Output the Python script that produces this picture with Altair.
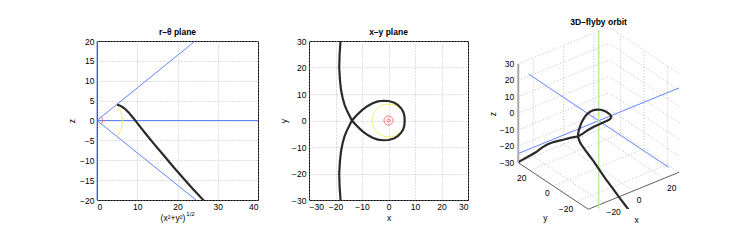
import altair as alt
import pandas as pd

FONT = "Liberation Sans"

# ---------------- r–θ plane (panel 1) ----------------
rz_r = [5.0, 5.6, 6.3, 7.0, 7.8, 8.7, 9.6, 10.6, 12.0, 14.0, 16.5, 19.0, 21.5, 24.0, 26.5, 29.0]
rz_z = [4.0, 3.8, 3.4, 2.9, 2.1, 1.0, -0.1, -1.4, -3.2, -5.7, -8.7, -11.7, -14.6, -17.4, -20.1, -22.8]
cone_r = [24.4, 0.0, 24.6]
cone_z = [20.0, 0.0, -20.0]
zero_line_r = [0.0, 40.0]
zero_line_z = [0.0, 0.0]
pole_line_r = [0.0, 0.0]
pole_line_z = [-20.0, 20.0]
cone_half_angle = 0.686          # rad
rz_yellow_radius = 6.3
rz_red_radius = 1.4

# ---------------- orbit (panels 2 and 3) ----------------
orbit_x = [-16.6, -17.0, -17.4, -17.7, -18.1, -18.45, -18.6, -18.3, -17.9, -17.3, -16.6, -15.8, -14.8, -13.8,
           -12.0, -10.0, -8.0, -6.0, -4.0, -2.0, 0.0, 2.0, 3.5, 4.8, 5.6, 6.0, 6.1,
           6.0, 5.6, 4.8, 3.5, 2.0, 0.0, -2.0, -4.0, -6.0, -8.0, -10.0, -12.0, -13.8,
           -14.8, -15.8, -16.6, -17.3, -17.9, -18.3, -18.6, -18.45, -18.1, -17.7, -17.4, -17.0, -16.6]
orbit_y = [50, 45, 40, 35, 30, 25, 20, 15, 11.5, 8.5, 6, 4, 2, 0,
           -2.0, -3.9, -5.4, -6.5, -7.2, -7.45, -7.35, -6.8, -5.9, -4.6, -3.2, -1.7, 0.0,
           1.7, 3.2, 4.6, 5.9, 6.8, 7.35, 7.45, 7.2, 6.5, 5.4, 3.9, 2.0, 0.0,
           -2, -4, -6, -8.5, -11.5, -15, -20, -25, -30, -35, -40, -45, -50]
orbit_z = [-45.2, -40.9, -36.6, -32.3, -28.0, -23.0, -18.5, -14.8, -12.6, -10.8, -9.2, -8.0, -7.0, -6.0,
           -4.0, -1.6, 0.0, 1.0, 1.6, 1.9, 1.9, 1.7, 1.4, 1.2, 1.0, 0.9, 0.9,
           0.9, 1.0, 1.1, 1.1, 0.9, 0.4, -0.5, -1.6, -3.0, -4.3, -5.2, -5.7, -6.0,
           -6.0, -6.1, -6.3, -6.6, -7.2, -8.2, -10.0, -13.2, -16.6, -19.5, -22.6, -25.5, -28.5]
xy_yellow_radius = 6.2
xy_red_radii = [1.7, 0.6]

# ---------------- 3D box ----------------
ticks_xy3d = [-20, 0, 20]
ticks_z3d = [-30, -20, -10, 0, 10, 20, 30]
lim3d = 30
blue_axis_extent = [-60.0, 60.0]
blue_axis_level = -1.6
green_axis_z = [-55.0, 53.5]

# projection (screen px per data unit), camera fixed
PU = (1.512, -1.167)
PV = (0.617, 0.777, 1.645)

BLACK = "#2a2a2a"
BLUE = "#6384ff"
GREEN = "#b6f09c"
YELLOW = "#f2ee55"
RED = "#ff5a5a"
GRID = "#b0b0b0"

axis_style = dict(grid=True, gridColor=GRID, gridDash=[1, 2], gridWidth=0.8, domain=False, ticks=False,
                  labelFont=FONT, labelFontSize=8.5, labelColor="black",
                  titleFont=FONT, titleFontSize=8.5, titleFontWeight="normal", titleColor="black")


def title(text, offset):
    return alt.TitleParams(text=text, offset=offset, frame="group", font=FONT, fontSize=8.5,
                           fontWeight="bold", anchor="middle")


# ================= panel 1 =================
W1, H1 = 161, 159
sc_r = alt.Scale(domain=[0, 40], nice=False, zero=False)
sc_z = alt.Scale(domain=[-20, 20], nice=False, zero=False)
ax_r = alt.Axis(values=[0, 10, 20, 30, 40], title="(x²+y²)", titleX=75.5, titlePadding=3, labelPadding=2,
                **axis_style)
ax_z = alt.Axis(values=list(range(-20, 21, 5)), title="z", titlePadding=3, labelPadding=3, **axis_style)


def enc1():
    return dict(x=alt.X("r:Q", scale=sc_r, axis=ax_r), y=alt.Y("z:Q", scale=sc_z, axis=ax_z))


blue1 = pd.DataFrame({
    "r": zero_line_r + pole_line_r + cone_r,
    "z": zero_line_z + pole_line_z + cone_z,
    "seg": ["h", "h", "v", "v", "c", "c", "c"],
    "i": [0, 1, 0, 1, 0, 1, 2],
})
p1_blue = alt.Chart(blue1).mark_line(color=BLUE, strokeWidth=1, clip=False).encode(
    detail="seg:N", order="i:Q", **enc1())


def arc_rz(radius, color):
    return alt.Chart(alt.sequence(-cone_half_angle, cone_half_angle + 0.001, 0.02, as_="t")).transform_calculate(
        r=f"{radius}*cos(datum.t)", z=f"{radius}*sin(datum.t)"
    ).mark_line(color=color, strokeWidth=1).encode(order="t:Q", **enc1())


p1_curve = alt.Chart(pd.DataFrame({"r": rz_r, "z": rz_z, "i": range(len(rz_r))})).mark_line(
    color=BLACK, strokeWidth=2.2, clip=True).encode(order="i:Q", **enc1())

p1_sup = alt.Chart(pd.DataFrame({"a": [0]})).mark_text(
    text="1/2", font=FONT, fontSize=6, align="center", baseline="middle", color="black").encode(
    x=alt.value(93.5), y=alt.value(172.5))

panel1 = alt.layer(p1_blue, arc_rz(rz_yellow_radius, YELLOW), arc_rz(rz_red_radius, RED), p1_curve, p1_sup
                   ).properties(width=W1, height=H1, title=title("r–θ plane", 1))

# ================= panel 2 =================
W2, H2 = 159, 159
sc_x = alt.Scale(domain=[-30, 30], nice=False, zero=False)
sc_y = alt.Scale(domain=[-30, 30], nice=False, zero=False)
ax_x = alt.Axis(values=list(range(-30, 31, 10)), title="x", titlePadding=3, labelPadding=2, **axis_style)
ax_y = alt.Axis(values=list(range(-30, 31, 10)), title="y", titlePadding=3, labelPadding=3, **axis_style)


def enc2():
    return dict(x=alt.X("x:Q", scale=sc_x, axis=ax_x), y=alt.Y("y:Q", scale=sc_y, axis=ax_y))


def circle_xy(radius, color):
    return alt.Chart(alt.sequence(0, 6.3, 0.05, as_="t")).transform_calculate(
        x=f"{radius}*cos(datum.t)", y=f"{radius}*sin(datum.t)"
    ).mark_line(color=color, strokeWidth=1).encode(order="t:Q", **enc2())


orbit_df = pd.DataFrame({"x": orbit_x, "y": orbit_y, "z": orbit_z, "i": range(len(orbit_x))})
p2_curve = alt.Chart(orbit_df).mark_line(color=BLACK, strokeWidth=2.2, clip=True).encode(order="i:Q", **enc2())

panel2 = alt.layer(circle_xy(xy_yellow_radius, YELLOW), *[circle_xy(r, RED) for r in xy_red_radii], p2_curve
                   ).properties(width=W2, height=H2, title=title("x–y plane", 1))

# ================= panel 3 (3D) =================
W3, H3 = 160, 168
su = alt.Scale(domain=[-79.65, 80.35], nice=False, zero=False)
sv = alt.Scale(domain=[-90.9, 77.1], nice=False, zero=False)


def uexpr(x, y):
    return f"{PU[0]}*datum.{x} + ({PU[1]})*datum.{y}"


def vexpr(x, y, z):
    return f"{PV[0]}*datum.{x} + {PV[1]}*datum.{y} + {PV[2]}*datum.{z}"


def seg_chart(df, color, width, dash=None, clip=False):
    mk = dict(color=color, strokeWidth=width, clip=clip)
    if dash is not None:
        mk["strokeDash"] = dash
    return alt.Chart(df).transform_calculate(
        u1=uexpr("x1", "y1"), v1=vexpr("x1", "y1", "z1"),
        u2=uexpr("x2", "y2"), v2=vexpr("x2", "y2", "z2"),
    ).mark_rule(**mk).encode(
        x=alt.X("u1:Q", scale=su, axis=None), y=alt.Y("v1:Q", scale=sv, axis=None),
        x2="u2:Q", y2="v2:Q")


L = lim3d
grid_segs = []
for t in ticks_xy3d:
    grid_segs += [(t, -L, -L, t, L, -L), (-L, t, -L, L, t, -L), (t, L, -L, t, L, L), (L, t, -L, L, t, L)]
for t in ticks_z3d:
    grid_segs += [(-L, L, t, L, L, t), (L, -L, t, L, L, t)]
cols = ["x1", "y1", "z1", "x2", "y2", "z2"]
grid_df = pd.DataFrame(grid_segs, columns=cols)
xyaxes_df = pd.DataFrame([(-L, L, -L, -L, -L, -L), (-L, -L, -L, L, -L, -L)], columns=cols)
zaxis_df = pd.DataFrame([(-L, L, -L, -L, L, L)], columns=cols)
blue_df = pd.DataFrame([(blue_axis_extent[0], 0, blue_axis_level, blue_axis_extent[1], 0, blue_axis_level),
                        (0, blue_axis_extent[0], blue_axis_level, 0, blue_axis_extent[1], blue_axis_level)],
                       columns=cols)
green_df = pd.DataFrame([(0, 0, green_axis_z[0], 0, 0, green_axis_z[1])], columns=cols)


def label_chart(df, **mk):
    return alt.Chart(df).transform_calculate(
        u=uexpr("x", "y"), v=vexpr("x", "y", "z")
    ).mark_text(font=FONT, fontSize=8.5, color="black", **mk).encode(
        x=alt.X("u:Q", scale=su, axis=None), y=alt.Y("v:Q", scale=sv, axis=None),
        text=alt.Text("val:Q", format="d"))


zlab = pd.DataFrame({"x": -L, "y": L, "z": ticks_z3d, "val": ticks_z3d})
ylab = pd.DataFrame({"x": -L, "y": ticks_xy3d, "z": -L, "val": ticks_xy3d})
xlab = pd.DataFrame({"x": ticks_xy3d, "y": -L, "z": -L, "val": ticks_xy3d})


def axis_title_chart(x, y, z, text, **mk):
    return alt.Chart(pd.DataFrame({"x": [x], "y": [y], "z": [z]})).transform_calculate(
        u=uexpr("x", "y"), v=vexpr("x", "y", "z")
    ).mark_text(text=text, font=FONT, fontSize=8.5, color="black", **mk).encode(
        x=alt.X("u:Q", scale=su, axis=None), y=alt.Y("v:Q", scale=sv, axis=None))


p3_curve = alt.Chart(orbit_df).transform_calculate(
    u=uexpr("x", "y"), v=vexpr("x", "y", "z")
).mark_line(color=BLACK, strokeWidth=2.2, clip=True).encode(
    x=alt.X("u:Q", scale=su, axis=None), y=alt.Y("v:Q", scale=sv, axis=None), order="i:Q")

p3_title = alt.Chart(pd.DataFrame({"a": [0]})).mark_text(
    text="3D–flyby orbit", font=FONT, fontSize=8.5, fontWeight="bold", align="center", baseline="middle",
    color="black").encode(x=alt.value(79.5), y=alt.value(-19.3))

panel3 = alt.layer(
    seg_chart(grid_df, GRID, 0.8, dash=[1, 2]),
    seg_chart(zaxis_df, "#a8a8a8", 2),
    seg_chart(xyaxes_df, "#606060", 1),
    seg_chart(blue_df, BLUE, 1, clip=True),
    seg_chart(green_df, GREEN, 1.6),
    p3_curve,
    label_chart(zlab, align="right", baseline="middle", dx=-4),
    label_chart(ylab, align="right", baseline="middle", dx=-3.5, dy=7.5),
    label_chart(xlab, align="left", baseline="middle", dx=3, dy=9.3),
    # rotated text: dx/dy act in the text's own (rotated) frame
    axis_title_chart(-L, L, 0, "z", align="center", baseline="middle", dx=-0.7, dy=-25, angle=270),
    axis_title_chart(-L, 0, -L, "y", align="center", baseline="middle", dx=-8, dy=32),
    axis_title_chart(0, -L, -L, "x", align="center", baseline="middle", dx=3, dy=29.5),
    p3_title,
).properties(width=W3, height=H3, view=alt.ViewBackground(stroke="transparent"))

chart = alt.hconcat(panel1, panel2, panel3, spacing=51, bounds="flush").properties(
    padding={"left": 59, "top": 9, "right": 5, "bottom": 5}
).configure_view(stroke="black", strokeWidth=1)

chart.save("out.html", embed_options={"renderer": "svg", "actions": False})
